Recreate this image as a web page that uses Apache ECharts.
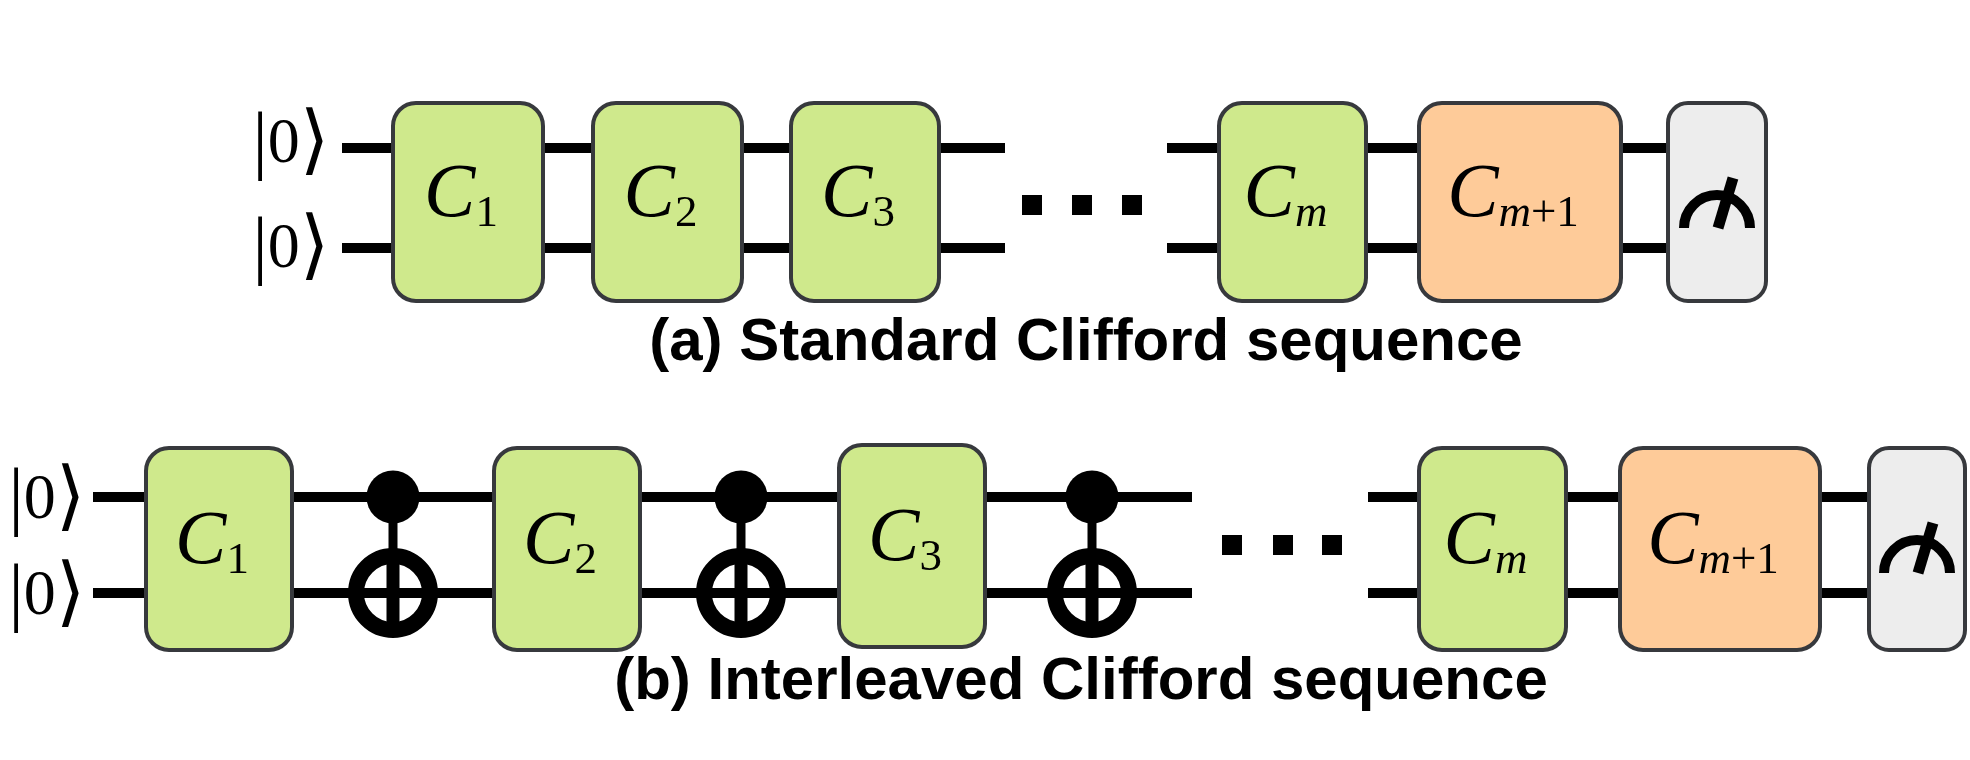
<!DOCTYPE html>
<html>
<head>
<meta charset="UTF-8">
<title>Clifford sequences</title>
<script src="https://cdn.jsdelivr.net/npm/echarts@6/dist/echarts.min.js"></script>
<style>
  html, body { margin: 0; padding: 0; background: #fff; }
  #main { width: 1970px; height: 760px; }
</style>
</head>
<body>
<div id="main"></div>
<script>
// figure units: 1 unit = 1 px of the 1970 x 760 picture
var wireA = [148, 248];              // qubit lines, panel (a)
var wireB = [497, 593];              // qubit lines, panel (b)
var wireSegA = [[342, 1005], [1167, 1666]];
var wireSegB = [[93, 1192], [1368, 1867]];

// gate boxes: [x0, x1, y0, y1], same order in both panels
var gateKind = ['c', 'c', 'c', 'c', 'inv', 'meas'];
var gateSub = ['1', '2', '3', 'm', 'm+1', ''];
var gatesA = [[393, 543, 103, 301], [593, 742, 103, 301], [791, 939, 103, 301],
              [1219, 1366, 103, 301], [1419, 1621, 103, 301], [1668, 1766, 103, 301]];
var gatesB = [[146, 292, 448, 650], [494, 640, 448, 650], [839, 985, 445, 647],
              [1419, 1566, 448, 650], [1620, 1820, 448, 650], [1869, 1965, 448, 650]];

var cnotX = [393, 741, 1092];        // interleaved CNOTs, panel (b)
var dotsAX = [1032, 1082, 1132], dotsAY = 205;
var dotsBX = [1232, 1283, 1332], dotsBY = 545;

var ketPos = [[291, 145], [291, 250], [47, 501], [47, 597]];
var titles = ['(a) Standard Clifford sequence', '(b) Interleaved Clifford sequence'];
var titlePos = [[1086, 343], [1081, 682]];

var INK = '#000000';
var EDGE = '#37393d';
var gateFill = { c: '#cfe98c', inv: '#fecb99', meas: '#ededed' };

var wireData = [];
wireSegA.forEach(function (s) { wireA.forEach(function (y) { wireData.push([s[0], s[1], y]); }); });
wireSegB.forEach(function (s) { wireB.forEach(function (y) { wireData.push([s[0], s[1], y]); }); });

var gateData = [];
gatesA.forEach(function (g, i) { gateData.push(g.concat([i])); });
gatesB.forEach(function (g, i) { gateData.push(g.concat([i])); });

var cnotData = cnotX.map(function (x) { return [x, wireB[0], wireB[1]]; });
var dotData = dotsAX.map(function (x) { return [x, dotsAY]; })
  .concat(dotsBX.map(function (x) { return [x, dotsBY]; }));
var titleData = titlePos.map(function (p, i) { return [p[0], p[1], i]; });

var serif = '"Liberation Serif", "DejaVu Serif", serif';

function renderWire(params, api) {
  var a = api.coord([api.value(0), api.value(2)]);
  var b = api.coord([api.value(1), api.value(2)]);
  return {
    type: 'line',
    shape: { x1: a[0], y1: a[1], x2: b[0], y2: b[1] },
    style: { stroke: INK, lineWidth: 10, lineCap: 'butt' }
  };
}

function renderGate(params, api) {
  var p0 = api.coord([api.value(0), api.value(2)]);
  var p1 = api.coord([api.value(1), api.value(3)]);
  var i = api.value(4);
  var kind = gateKind[i];
  var cx = (p0[0] + p1[0]) / 2, cy = (p0[1] + p1[1]) / 2;
  var kids = [{
    type: 'rect',
    shape: { x: p0[0], y: p0[1], width: p1[0] - p0[0], height: p1[1] - p0[1], r: kind === 'meas' ? 20 : 23 },
    style: { fill: gateFill[kind], stroke: EDGE, lineWidth: 4 }
  }];
  if (kind === 'meas') {
    var ay = p0[1] + 125;
    kids.push({
      type: 'arc',
      shape: { cx: cx, cy: ay, r: 33, startAngle: Math.PI, endAngle: Math.PI * 2, clockwise: true },
      style: { stroke: INK, fill: 'none', lineWidth: 10 }
    });
    kids.push({
      type: 'line',
      shape: { x1: cx + 1, y1: ay, x2: cx + 16, y2: ay - 50 },
      style: { stroke: INK, lineWidth: 11 }
    });
  } else {
    var sub = gateSub[i];
    var txt;
    if (sub === 'm+1') txt = '{c|C}{m|m}{s|+1}';
    else if (sub === 'm') txt = '{c|C}{m|m}';
    else txt = '{c|C}{s|' + sub + '}';
    kids.push({
      type: 'text',
      x: cx - 7,
      y: cy - 6,
      style: {
        text: txt,
        align: 'center', verticalAlign: 'middle',
        textAlign: 'center', textVerticalAlign: 'middle',
        fill: INK,
        rich: {
          c: { fontFamily: serif, fontStyle: 'italic', fontSize: 77, lineHeight: 82, fill: INK },
          m: { fontFamily: serif, fontStyle: 'italic', fontSize: 45, lineHeight: 44, verticalAlign: 'bottom', fill: INK },
          s: { fontFamily: serif, fontSize: 45, lineHeight: 44, verticalAlign: 'bottom', fill: INK }
        }
      }
    });
  }
  return { type: 'group', children: kids };
}

function renderCnot(params, api) {
  var c = api.coord([api.value(0), api.value(1)]);
  var t = api.coord([api.value(0), api.value(2)]);
  return {
    type: 'group',
    children: [
      { type: 'line', shape: { x1: c[0], y1: c[1], x2: t[0], y2: t[1] - 37 }, style: { stroke: INK, lineWidth: 9 } },
      { type: 'circle', shape: { cx: c[0], cy: c[1], r: 26.5 }, style: { fill: INK } },
      { type: 'circle', shape: { cx: t[0], cy: t[1], r: 37 }, style: { fill: 'none', stroke: INK, lineWidth: 16 } },
      { type: 'line', shape: { x1: t[0], y1: t[1] - 37, x2: t[0], y2: t[1] + 37 }, style: { stroke: INK, lineWidth: 13 } }
    ]
  };
}

function renderDot(params, api) {
  var p = api.coord([api.value(0), api.value(1)]);
  var s = api.size([20, 20]);
  return {
    type: 'rect',
    shape: { x: p[0] - s[0] / 2, y: p[1] - s[1] / 2, width: s[0], height: s[1] },
    style: { fill: INK }
  };
}

function renderKet(params, api) {
  var p = api.coord([api.value(0), api.value(1)]);
  return {
    type: 'text',
    x: p[0], y: p[1],
    style: {
      text: '{d||}{n|0}{d|\u27e9}',
      align: 'center', verticalAlign: 'middle',
      textAlign: 'center', textVerticalAlign: 'middle',
      fill: INK,
      rich: {
        d: { fontFamily: serif, fontSize: 76, lineHeight: 80, fill: INK },
        n: { fontFamily: serif, fontSize: 64, lineHeight: 80, fill: INK }
      }
    }
  };
}

function renderTitle(params, api) {
  var p = api.coord([api.value(0), api.value(1)]);
  return {
    type: 'text',
    x: p[0], y: p[1],
    style: {
      text: titles[api.value(2)],
      fontFamily: '"Liberation Sans", Arial, sans-serif',
      fontWeight: 'bold',
      fontSize: 60,
      align: 'center', verticalAlign: 'middle',
      textAlign: 'center', textVerticalAlign: 'middle',
      fill: INK
    }
  };
}

var chart = echarts.init(document.getElementById('main'));
chart.setOption({
  backgroundColor: '#ffffff',
  animation: false,
  grid: { left: 0, right: 0, top: 0, bottom: 0 },
  xAxis: { type: 'value', min: 0, max: 1970, show: false },
  yAxis: { type: 'value', min: 0, max: 760, inverse: true, show: false },
  series: [
    { type: 'custom', name: 'wires', renderItem: renderWire, data: wireData, silent: true },
    { type: 'custom', name: 'gates', renderItem: renderGate, data: gateData, silent: true },
    { type: 'custom', name: 'cnot', renderItem: renderCnot, data: cnotData, silent: true },
    { type: 'custom', name: 'dots', renderItem: renderDot, data: dotData, silent: true },
    { type: 'custom', name: 'kets', renderItem: renderKet, data: ketPos, silent: true },
    { type: 'custom', name: 'titles', renderItem: renderTitle, data: titleData, silent: true }
  ]
});
</script>
</body>
</html>
